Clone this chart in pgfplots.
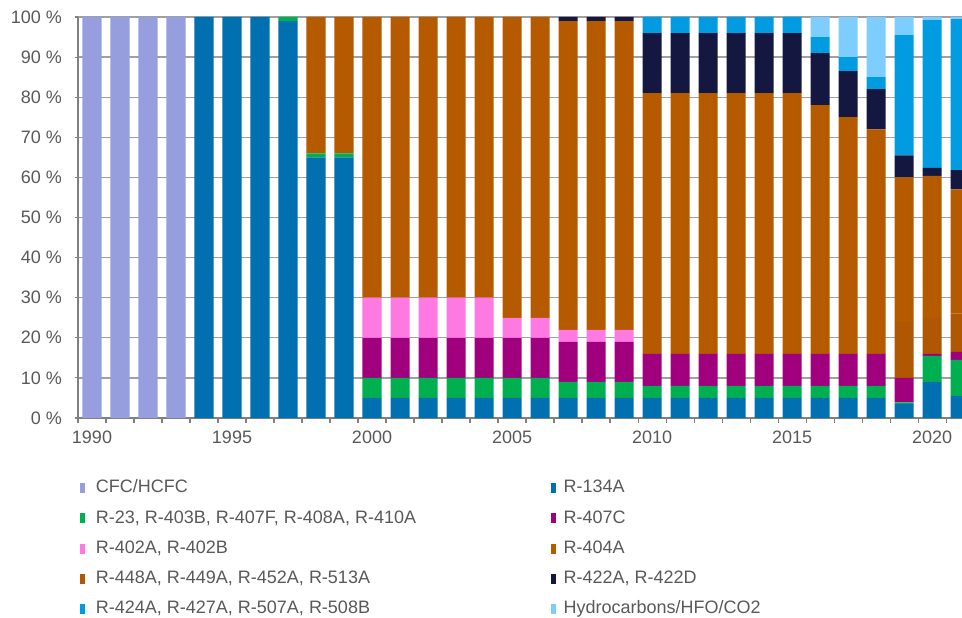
\documentclass[border=0pt]{standalone}
\usepackage{pgfplots}
\pgfplotsset{compat=1.18}
\usepackage{pgfplotstable}
\usepackage{fontspec}
\setmainfont{Liberation Sans}
\definecolor{cCFC}{RGB}{150,158,222}
\definecolor{c134}{RGB}{0,112,176}
\definecolor{cGrn}{RGB}{0,176,80}
\definecolor{c407}{RGB}{160,0,126}
\definecolor{c402}{RGB}{255,121,227}
\definecolor{c404}{RGB}{182,90,0}
\definecolor{c448}{RGB}{175,87,3}
\definecolor{c422}{RGB}{20,24,64}
\definecolor{c424}{RGB}{0,155,224}
\definecolor{cHC}{RGB}{125,206,255}
\definecolor{txt}{RGB}{89,89,89}
\definecolor{gridc}{RGB}{160,160,160}
\definecolor{axc}{RGB}{128,128,128}

\pgfplotstableread{
year cfc r134 grn r407 r402 r448 r404 r422 r424 hc
1990 100 0 0 0 0 0 0 0 0 0
1991 100 0 0 0 0 0 0 0 0 0
1992 100 0 0 0 0 0 0 0 0 0
1993 100 0 0 0 0 0 0 0 0 0
1994 0 100 0 0 0 0 0 0 0 0
1995 0 100 0 0 0 0 0 0 0 0
1996 0 100 0 0 0 0 0 0 0 0
1997 0 99 1 0 0 0 0 0 0 0
1998 0 65 1 0 0 0 34 0 0 0
1999 0 65 1 0 0 0 34 0 0 0
2000 0 5 5 10 10 0 70 0 0 0
2001 0 5 5 10 10 0 70 0 0 0
2002 0 5 5 10 10 0 70 0 0 0
2003 0 5 5 10 10 0 70 0 0 0
2004 0 5 5 10 10 0 70 0 0 0
2005 0 5 5 10 5 0 75 0 0 0
2006 0 5 5 10 5 0 75 0 0 0
2007 0 5 4 10 3 0 77 1 0 0
2008 0 5 4 10 3 0 77 1 0 0
2009 0 5 4 10 3 0 77 1 0 0
2010 0 5 3 8 0 0 65 15 4 0
2011 0 5 3 8 0 0 65 15 4 0
2012 0 5 3 8 0 0 65 15 4 0
2013 0 5 3 8 0 0 65 15 4 0
2014 0 5 3 8 0 0 65 15 4 0
2015 0 5 3 8 0 0 65 15 4 0
2016 0 5 3 8 0 0 62 13 4 5
2017 0 5 3 8 0 0 59 11.5 3.5 10
2018 0 5 3 8 0 0 56 10 3 15
2019 0 3.5 0.4 6.1 0 14 36 5.5 30 4.5
2020 0 9 6.5 0.5 0 9 35.4 2 36.8 0.8
2021 0 5.5 9 2 0 9.5 31 4.8 37.7 0.5
}\data

\begin{document}
\begin{tikzpicture}
\begin{axis}[
  scale only axis, width=663pt, height=300.75pt,
  xmin=1989.5, xmax=2021.07, ymin=0, ymax=100,
  ybar stacked, bar width=0.68,
  axis x line*=bottom, axis y line*=left,
  axis line style={draw=axc, line width=1pt},
  ytick={0,10,...,100},
  yticklabels={0 \%,10 \%,20 \%,30 \%,40 \%,50 \%,60 \%,70 \%,80 \%,90 \%,100 \%},
  xtick={1990,1995,2000,2005,2010,2015,2020},
  xticklabels={1990,1995,2000,2005,2010,2015,2020},
  minor xtick={1989.5,1990.5,...,2021.5},
  tick align=outside,
  major tick length=2.5pt, minor tick length=3.75pt,
  every major x tick/.append style={draw=none},
  tick style={draw=axc, line width=0.8pt},
  ymajorgrids, grid style={draw=gridc, line width=1pt},
  tick label style={font=\fontsize{13.5}{16}\selectfont, text=txt},
  yticklabel style={xshift=-6pt},
  xticklabel style={yshift=-4pt},
  legend columns=2,
  legend cell align=left,
  legend style={at={(axis description cs:0,0)}, anchor=north west,
    xshift=1.5pt, yshift=-44pt, draw=none, fill=none, inner sep=0pt,
    font=\fontsize{13.5}{16}\selectfont, text=txt, row sep=5.6pt,
    nodes={inner sep=2pt, text height=10pt, text depth=3pt}},
]
\addplot+[fill=cCFC, draw=none, forget plot] table[x=year, y=cfc] {\data};
\addplot+[fill=c134, draw=none, forget plot] table[x=year, y=r134] {\data};
\addplot+[fill=cGrn, draw=none, forget plot] table[x=year, y=grn] {\data};
\addplot+[fill=c407, draw=none, forget plot] table[x=year, y=r407] {\data};
\addplot+[fill=c402, draw=none, forget plot] table[x=year, y=r402] {\data};
\addplot+[fill=c448, draw=none, forget plot] table[x=year, y=r448] {\data};
\addplot+[fill=c404, draw=none, forget plot] table[x=year, y=r404] {\data};
\addplot+[fill=c422, draw=none, forget plot] table[x=year, y=r422] {\data};
\addplot+[fill=c424, draw=none, forget plot] table[x=year, y=r424] {\data};
\addplot+[fill=cHC, draw=none, forget plot] table[x=year, y=hc] {\data};
\pgfplotsset{legend image code/.code={\fill[#1] (0pt,-3.75pt) rectangle (3.75pt,3.75pt);}}
\addlegendimage{fill=cCFC, draw=none}
\addlegendentry{\hspace{6pt}\makebox[339pt][l]{CFC/HCFC}}
\addlegendimage{fill=c134, draw=none}
\addlegendentry{\hspace{4pt}R-134A}
\addlegendimage{fill=cGrn, draw=none}
\addlegendentry{\hspace{6pt}\makebox[339pt][l]{R-23, R-403B, R-407F, R-408A, R-410A}}
\addlegendimage{fill=c407, draw=none}
\addlegendentry{\hspace{4pt}R-407C}
\addlegendimage{fill=c402, draw=none}
\addlegendentry{\hspace{6pt}\makebox[339pt][l]{R-402A, R-402B}}
\addlegendimage{fill=c404, draw=none}
\addlegendentry{\hspace{4pt}R-404A}
\addlegendimage{fill=c448, draw=none}
\addlegendentry{\hspace{6pt}\makebox[339pt][l]{R-448A, R-449A, R-452A, R-513A}}
\addlegendimage{fill=c422, draw=none}
\addlegendentry{\hspace{4pt}R-422A, R-422D}
\addlegendimage{fill=c424, draw=none}
\addlegendentry{\hspace{6pt}\makebox[339pt][l]{R-424A, R-427A, R-507A, R-508B}}
\addlegendimage{fill=cHC, draw=none}
\addlegendentry{\hspace{4pt}Hydrocarbons/HFO/CO2}
\end{axis}
\pgfresetboundingbox
\path (-58.5pt,-149.25pt) rectangle (663pt,313.5pt);
\end{tikzpicture}
\end{document}
